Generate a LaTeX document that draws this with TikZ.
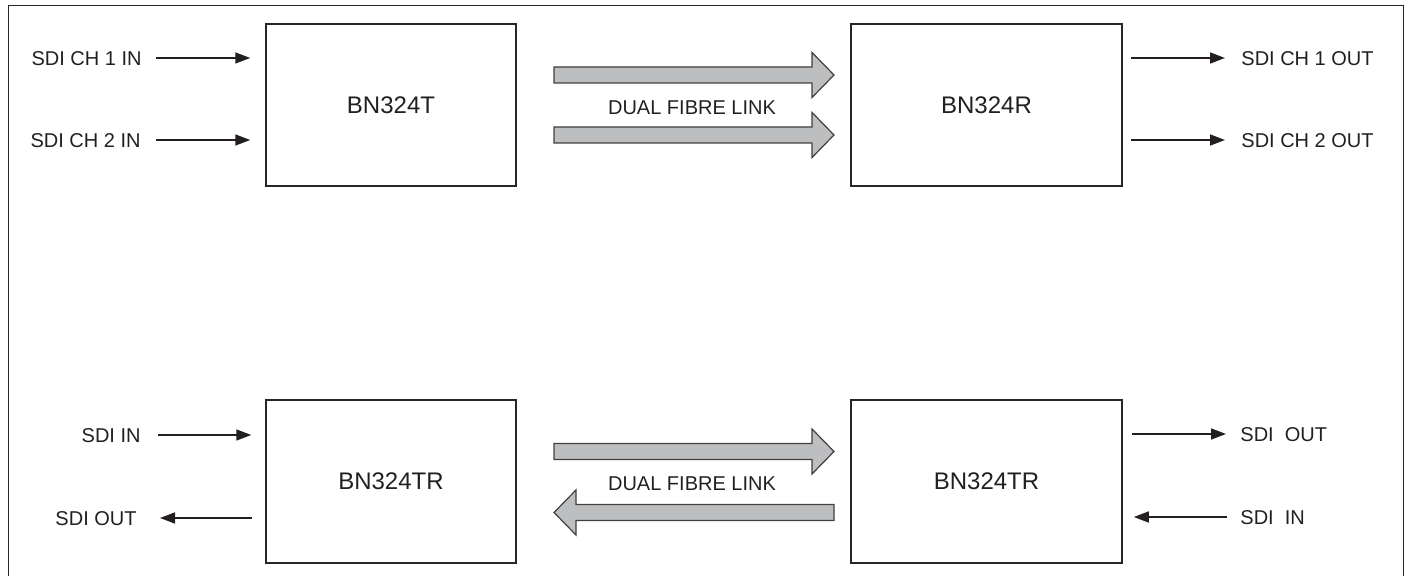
\documentclass[tikz,border=0pt]{standalone}
\usepackage{fontspec}
\setmainfont{Liberation Sans}
\usetikzlibrary{arrows.meta}
\definecolor{fibregray}{RGB}{189,190,192}
\definecolor{inkgray}{RGB}{35,31,32}
\def\fibrearrow(#1:#2:#3){\draw[fibre] (#1,#3-8) -- ({#2-22*sign(#2-#1)},#3-8) -- ({#2-22*sign(#2-#1)},#3-22.5) -- (#2,#3) -- ({#2-22*sign(#2-#1)},#3+22.5) -- ({#2-22*sign(#2-#1)},#3+8) -- (#1,#3+8) -- cycle;}

\begin{document}
\begin{tikzpicture}[x=0.5pt, y=-0.5pt, font=\fontsize{10}{12}\selectfont, text=inkgray,
		unit/.style={draw=black!85, line width=0.75pt, inner sep=0pt, font=\fontsize{12}{14}\selectfont},
		lbl/.style={inner sep=0pt, text height=7.2pt, text depth=0pt},
		sig/.style={draw=inkgray, line width=0.75pt, -{Triangle[length=7.5pt,width=5.5pt]}},
		fibre/.style={draw=black!75, line width=0.6pt, fill=fibregray}]
			%%%%% START %%%%%
			\useasboundingbox (0,0) rectangle (1408,576);
			\draw[draw=black!85, line width=0.5pt] (8,577) -- (8,6) -- (1403,6) -- (1403,577);
			
			% dual channel link
			\node[unit, minimum width=125pt, minimum height=81pt] (tx) at (391,105) {BN324T};
			\node[unit, minimum width=135.5pt, minimum height=81pt] (rx) at (986.5,105) {BN324R};
			
			\node[lbl, anchor=east] (in1) at (142,58) {SDI CH 1 IN};
			\node[lbl, anchor=east] (in2) at (141,140) {SDI CH 2 IN};
			\node[lbl, anchor=west] (out1) at (1241,58) {SDI CH 1 OUT};
			\node[lbl, anchor=west] (out2) at (1241,140) {SDI CH 2 OUT};
			
			\draw[sig, shorten <=7pt, shorten >=7.5pt] (in1.east) -- (in1.east -| tx.west);
			\draw[sig, shorten <=7.5pt, shorten >=7.5pt] (in2.east) -- (in2.east -| tx.west);
			\draw[sig, shorten <=4pt, shorten >=8pt] (out1.west -| rx.east) -- (out1.west);
			\draw[sig, shorten <=4pt, shorten >=8pt] (out2.west -| rx.east) -- (out2.west);
			
			\fibrearrow(554:834:75)
			\fibrearrow(554:834:135)
			\node[lbl] (link1) at (692,107) {DUAL FIBRE LINK};
			
			% bidirectional link
			\node[unit, minimum width=125pt, minimum height=81.5pt] (trx1) at (391,481.5) {BN324TR};
			\node[unit, minimum width=135.5pt, minimum height=81.5pt] (trx2) at (986.5,481.5) {BN324TR};
			
			\node[lbl, anchor=east] (sdiin1) at (141,435) {SDI IN};
			\node[lbl, anchor=east] (sdiout1) at (137,518) {SDI OUT};
			\node[lbl, anchor=west] (sdiout2) at (1240,434) {SDI\ \ OUT};
			\node[lbl, anchor=west] (sdiin2) at (1240,517) {SDI\ \ IN};
			
			\draw[sig, shorten <=8.5pt, shorten >=7pt] (sdiin1.east) -- (sdiin1.east -| trx1.west);
			\draw[sig, shorten <=6.5pt, shorten >=11.5pt] (sdiout1.east -| trx1.west) -- (sdiout1.east);
			\draw[sig, shorten <=4.5pt, shorten >=7pt] (sdiout2.west -| trx2.east) -- (sdiout2.west);
			\draw[sig, shorten <=6.5pt, shorten >=5.5pt] (sdiin2.west) -- (sdiin2.west -| trx2.east);
			
			\fibrearrow(554:834:451.5)
			\fibrearrow(834:554:512.5)
			\node[lbl] (link2) at (692,483) {DUAL FIBRE LINK};
			%%%%% END %%%%%
\end{tikzpicture}
\end{document}
